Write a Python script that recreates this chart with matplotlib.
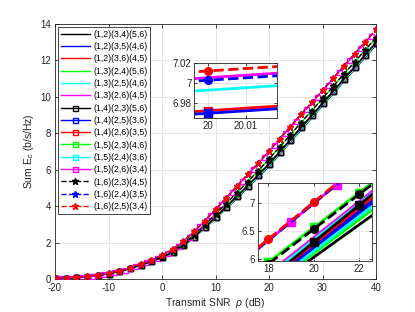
import matplotlib
matplotlib.use("Agg")
import matplotlib.pyplot as plt
import numpy as np

plt.rcParams['font.family'] = ['Liberation Sans', 'DejaVu Sans']
plt.rcParams['mathtext.fontset'] = 'custom'
plt.rcParams['mathtext.rm'] = 'Liberation Sans'
plt.rcParams['mathtext.it'] = 'Liberation Sans:italic'
plt.rcParams['axes.unicode_minus'] = False

# ---------------- data ----------------
snr = list(range(-20, 41, 2))
snr_odd = list(range(-19, 40, 2))

g_top = [0.04, 0.06, 0.09, 0.14, 0.21, 0.31, 0.45, 0.62, 0.83, 1.05, 1.30, 1.62, 2.08, 2.62, 3.20, 3.82,
         4.46, 5.10, 5.74, 6.38, 7.03, 7.70, 8.37, 9.04, 9.70, 10.36, 11.03, 11.70, 12.36, 13.03, 13.70]
g_two = [0.04, 0.06, 0.09, 0.14, 0.21, 0.30, 0.43, 0.59, 0.79, 0.99, 1.22, 1.52, 1.94, 2.44, 2.98, 3.55,
         4.14, 4.74, 5.34, 5.95, 6.58, 7.25, 7.92, 8.59, 9.25, 9.91, 10.58, 11.25, 11.91, 12.58, 13.25]
g_three = [0.04, 0.06, 0.09, 0.13, 0.20, 0.29, 0.42, 0.58, 0.77, 0.97, 1.19, 1.46, 1.86, 2.33, 2.85, 3.39,
           3.96, 4.54, 5.12, 5.71, 6.31, 6.98, 7.65, 8.32, 8.98, 9.64, 10.31, 10.98, 11.64, 12.31, 12.98]
g_four = [0.04, 0.06, 0.09, 0.13, 0.20, 0.29, 0.42, 0.58, 0.77, 0.96, 1.18, 1.44, 1.83, 2.30, 2.81, 3.34,
          3.90, 4.48, 5.05, 5.63, 6.23, 6.90, 7.57, 8.24, 8.90, 9.56, 10.23, 10.90, 11.56, 12.23, 12.90]
g_five = [0.04, 0.06, 0.09, 0.13, 0.20, 0.29, 0.42, 0.57, 0.76, 0.95, 1.17, 1.42, 1.81, 2.27, 2.78, 3.31,
          3.86, 4.43, 5.00, 5.58, 6.18, 6.85, 7.52, 8.19, 8.85, 9.51, 10.18, 10.85, 11.51, 12.18, 12.85]
g_mag_odd = [0.05, 0.07, 0.11, 0.17, 0.25, 0.37, 0.52, 0.71, 0.92, 1.15, 1.43, 1.83, 2.33, 2.89, 3.49,
             4.12, 4.76, 5.40, 6.04, 6.68, 7.34, 8.01, 8.68, 9.35, 10.01, 10.67, 11.34, 12.01, 12.67, 13.34]

labels = ['(1,2)(3,4)(5,6)', '(1,2)(3,5)(4,6)', '(1,2)(3,6)(4,5)', '(1,3)(2,4)(5,6)', '(1,3)(2,5)(4,6)',
          '(1,3)(2,6)(4,5)', '(1,4)(2,3)(5,6)', '(1,4)(2,5)(3,6)', '(1,4)(2,6)(3,5)', '(1,5)(2,3)(4,6)',
          '(1,5)(2,4)(3,6)', '(1,5)(2,6)(3,4)', '(1,6)(2,3)(4,5)', '(1,6)(2,4)(3,5)', '(1,6)(2,5)(3,4)']
colors = ['k', 'b', 'r', 'lime', 'cyan', 'magenta', 'k', 'b', 'r', 'lime', 'cyan', 'magenta', 'k', 'b', 'r']
markers = [None]*6 + ['s']*6 + ['*']*3
styles = ['-']*12 + ['--']*3
main_series = [g_five, g_four, g_four, g_four, g_four, g_three, g_three, g_three, g_three, g_two,
               g_three, g_mag_odd, g_two, g_top, g_top]
main_x = [snr]*11 + [snr_odd] + [snr]*3
main_z = [2, 2, 2, 2, 2, 2, 2.6, 2.2, 2.2, 2.5, 2.1, 2.7, 2.8, 2.9, 3.0]

# inset 1 (around 20 dB)
in1_x = [19.99, 20.0, 20.02]
in1_idx = [14, 11, 13, 10, 8, 7]
in1_vals = [[7.0092, 7.0117, 7.0167],
            [7.0025, 7.0050, 7.0100],
            [6.9999, 7.0024, 7.0074],
            [6.9900, 6.9925, 6.9975],
            [6.9695, 6.9720, 6.9770],
            [6.9669, 6.9694, 6.9744]]
in1_marker_at = [True, False, True, False, True, True]

# inset 2 (18-22 dB)
in2_x = [16, 18, 20, 22, 24]
in2_x_odd = [15, 17, 19, 21, 23, 25]
in2_vals = [[4.87, 5.45, 6.03, 6.61, 7.19],
            [4.95, 5.57, 6.19, 6.81, 7.43],
            [4.96, 5.60, 6.24, 6.88, 7.52],
            [4.90, 5.50, 6.10, 6.70, 7.30],
            [4.90, 5.52, 6.14, 6.76, 7.38],
            [5.10, 5.74, 6.38, 7.02, 7.66],
            [4.98, 5.64, 6.30, 6.96, 7.62],
            [4.93, 5.57, 6.21, 6.85, 7.49],
            [4.99, 5.63, 6.27, 6.91, 7.55],
            [5.32, 5.94, 6.56, 7.18, 7.80],
            [5.06, 5.70, 6.34, 6.98, 7.62],
            [5.34, 6.00, 6.66, 7.32, 7.98, 8.64],
            [5.29, 5.91, 6.53, 7.15, 7.77],
            [5.67, 6.33, 6.99, 7.65, 8.31],
            [5.69, 6.35, 7.01, 7.67, 8.33]]
in2_show_marker = [False]*6 + [True, False, False, True, False, True, True, False, True]

# ---------------- figure ----------------
fig = plt.figure(figsize=(4.15, 3.12), dpi=100)
W, H = 415, 312
ax = fig.add_axes([55/W, (H-279)/H, (376-55)/W, (279-24)/H])

for i in range(15):
    ax.plot(main_x[i], main_series[i], color=colors[i], ls=styles[i], lw=1.0,
            marker=markers[i], ms=(5 if markers[i] == '*' else 3.6),
            mfc='none' if markers[i] == 's' else colors[i], mew=1.0, label=labels[i],
            zorder=main_z[i])

ax.set_xlim(-20, 40)
ax.set_ylim(0, 14)
ax.set_xticks([-20, -10, 0, 10, 20, 30, 40])
ax.set_yticks([0, 2, 4, 6, 8, 10, 12, 14])
ax.grid(True, color='#e0e0e0', lw=0.6)
ax.set_axisbelow(True)
ax.tick_params(direction='in', labelsize=7, length=3, width=0.6, top=True, right=True, pad=3,
               colors='#262626')
for s in ax.spines.values():
    s.set_color('#262626'); s.set_linewidth(0.6)
ax.set_xlabel(r'Transmit SNR  $\rho$ (dB)', fontsize=7.5, color='#262626', labelpad=2)
ax.set_ylabel(r'Sum E$_{\rm c}$ (b/s/Hz)', fontsize=7.5, color='#262626', labelpad=3)

leg = ax.legend(loc='upper left', bbox_to_anchor=(3/321, 1 - 3/255), fontsize=6.3, numpoints=1,
                handlelength=3.3, handletextpad=0.4, labelspacing=0.38, borderpad=0.3,
                borderaxespad=0.0, fancybox=False, framealpha=1, edgecolor='#262626')
leg.get_frame().set_linewidth(0.6)
leg.set_zorder(5)

# inset 1
a1 = fig.add_axes([194.3/W, (H-118)/H, (277-194.3)/W, (118-62.7)/H])
for j, k in enumerate(in1_idx):
    a1.plot(in1_x, in1_vals[j], color=colors[k], ls=styles[k], lw=2.0)
    if in1_marker_at[j]:
        a1.plot([in1_x[1]], [in1_vals[j][1]], color=colors[k], ls='none',
                marker='o' if markers[k] == '*' else 's', ms=5.5)
a1.set_xlim(19.9965, 20.0181)
a1.set_ylim(6.9647, 7.02)
a1.set_xticks([20, 20.01])
a1.set_xticklabels(['20', '20.01'])
a1.set_yticks([6.98, 7.0, 7.02])
a1.set_yticklabels(['6.98', '7', '7.02'])
a1.grid(True, color='#e0e0e0', lw=0.6)
a1.set_axisbelow(True)
a1.tick_params(direction='in', labelsize=7, length=2, width=0.6, top=True, right=True, pad=2,
               colors='#262626')
for s in a1.spines.values():
    s.set_color('#262626'); s.set_linewidth(0.6)

# inset 2
a2 = fig.add_axes([258/W, (H-261)/H, (372-258)/W, (261-183)/H])
for k in range(15):
    xs = in2_x_odd if k == 11 else in2_x
    mk = None
    if in2_show_marker[k]:
        mk = 'o' if markers[k] == '*' else 's'
    a2.plot(xs, in2_vals[k], color=colors[k], ls=styles[k], lw=2.0,
            marker=mk, ms=5.5, zorder=main_z[k])
a2.set_xlim(17.55, 22.56)
a2.set_ylim(5.964, 7.35)
a2.set_xticks([18, 20, 22])
a2.set_yticks([6, 6.5, 7])
a2.set_yticklabels(['6', '6.5', '7'])
a2.grid(True, color='#e0e0e0', lw=0.6)
a2.set_axisbelow(True)
a2.tick_params(direction='in', labelsize=7, length=2, width=0.6, top=True, right=True, pad=2,
               colors='#262626')
for s in a2.spines.values():
    s.set_color('#262626'); s.set_linewidth(0.6)

fig.savefig('out.png', dpi=100)
